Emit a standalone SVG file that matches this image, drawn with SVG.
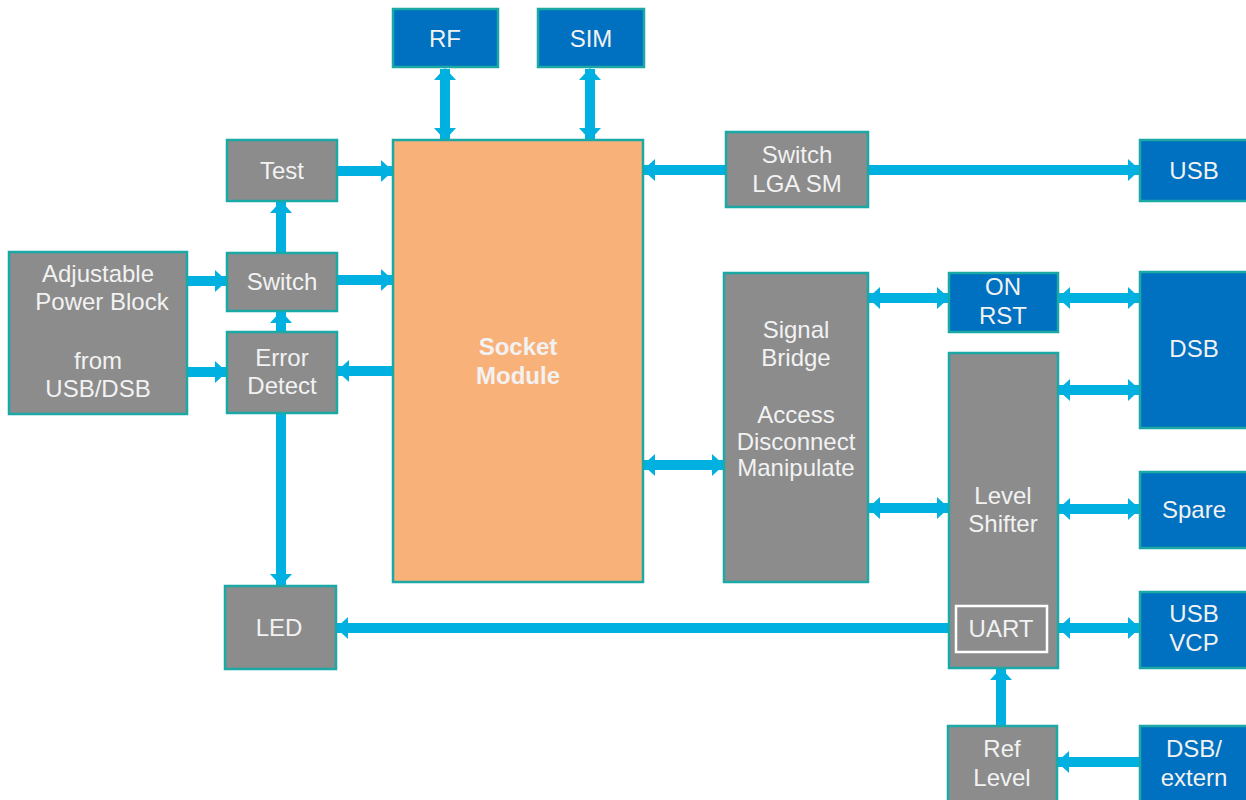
<svg xmlns="http://www.w3.org/2000/svg" width="1246" height="800" viewBox="0 0 1246 800">
<defs>
<style>
.g{fill:#8c8c8c;stroke:#1aa9a5;stroke-width:2.5}
.b{fill:#0070c0;stroke:#1aa9a5;stroke-width:2.5}
.o{fill:#f9b17a;stroke:#1aa9a5;stroke-width:2.5}
.t{font-family:"Liberation Sans",Arial,sans-serif;font-size:24px;fill:#f2f2f2;text-anchor:middle}
.bold{font-weight:bold}
.c line{stroke:#00b0e0;stroke-width:10}
</style>
<marker id="ah" viewBox="0 0 12 22" refX="11" refY="11" markerWidth="12" markerHeight="22" markerUnits="userSpaceOnUse" orient="auto-start-reverse">
<path d="M0,0 L12,11 L0,22 z" fill="#00b0e0"/>
</marker>
</defs>
<rect width="1246" height="800" fill="#ffffff"/>
<g class="c" id="connectors">
<line x1="445" y1="69" x2="445" y2="139" marker-start="url(#ah)" marker-end="url(#ah)"/>
<line x1="590" y1="69" x2="590" y2="139" marker-start="url(#ah)" marker-end="url(#ah)"/>
<line x1="337" y1="171" x2="392" y2="171" marker-end="url(#ah)"/>
<line x1="281" y1="253" x2="281" y2="202" marker-end="url(#ah)"/>
<line x1="337" y1="280" x2="392" y2="280" marker-end="url(#ah)"/>
<line x1="281" y1="332" x2="281" y2="312" marker-end="url(#ah)"/>
<line x1="393" y1="371" x2="338" y2="371" marker-end="url(#ah)"/>
<line x1="187" y1="281" x2="226" y2="281" marker-end="url(#ah)"/>
<line x1="187" y1="372" x2="226" y2="372" marker-end="url(#ah)"/>
<line x1="281" y1="413" x2="281" y2="585" marker-end="url(#ah)"/>
<line x1="726" y1="170" x2="644" y2="170" marker-end="url(#ah)"/>
<line x1="868" y1="170" x2="1139" y2="170" marker-end="url(#ah)"/>
<line x1="644" y1="465" x2="723" y2="465" marker-start="url(#ah)" marker-end="url(#ah)"/>
<line x1="869" y1="298" x2="948" y2="298" marker-start="url(#ah)" marker-end="url(#ah)"/>
<line x1="1059" y1="298" x2="1139" y2="298" marker-start="url(#ah)" marker-end="url(#ah)"/>
<line x1="1059" y1="390" x2="1139" y2="390" marker-start="url(#ah)" marker-end="url(#ah)"/>
<line x1="869" y1="508" x2="948" y2="508" marker-start="url(#ah)" marker-end="url(#ah)"/>
<line x1="1059" y1="509" x2="1139" y2="509" marker-start="url(#ah)" marker-end="url(#ah)"/>
<line x1="1059" y1="628" x2="1139" y2="628" marker-start="url(#ah)" marker-end="url(#ah)"/>
<line x1="949" y1="628" x2="337" y2="628" marker-end="url(#ah)"/>
<line x1="1001" y1="726" x2="1001" y2="669" marker-end="url(#ah)"/>
<line x1="1140" y1="762" x2="1058" y2="762" marker-end="url(#ah)"/>
</g>
<g id="rf"><rect class="b" x="393" y="9" width="105" height="58"/><text class="t" x="445" y="47">RF</text></g>
<g id="sim"><rect class="b" x="538" y="9" width="106" height="58"/><text class="t" x="591" y="47">SIM</text></g>
<g id="socket"><rect class="o" x="393" y="140" width="250" height="442"/><text class="t bold" x="518" y="355">Socket</text><text class="t bold" x="518" y="384">Module</text></g>
<g id="test"><rect class="g" x="227" y="140" width="110" height="61"/><text class="t" x="282" y="179">Test</text></g>
<g id="switch"><rect class="g" x="227" y="253" width="110" height="58"/><text class="t" x="282" y="290">Switch</text></g>
<g id="errordetect"><rect class="g" x="227" y="332" width="110" height="81"/><text class="t" x="282" y="366">Error</text><text class="t" x="282" y="394">Detect</text></g>
<g id="power"><rect class="g" x="9" y="252" width="178" height="162"/><text class="t" x="98" y="282">Adjustable</text><text class="t" x="102" y="310">Power Block</text><text class="t" x="98" y="369">from</text><text class="t" x="98" y="397">USB/DSB</text></g>
<g id="switchlga"><rect class="g" x="726" y="132" width="142" height="75"/><text class="t" x="797" y="163">Switch</text><text class="t" x="797" y="192">LGA SM</text></g>
<g id="usb"><rect class="b" x="1140" y="140" width="110" height="61"/><text class="t" x="1194" y="179">USB</text></g>
<g id="signalbridge"><rect class="g" x="724" y="273" width="144" height="309"/><text class="t" x="796" y="338">Signal</text><text class="t" x="796" y="366">Bridge</text><text class="t" x="796" y="423">Access</text><text class="t" x="796" y="450">Disconnect</text><text class="t" x="796" y="476">Manipulate</text></g>
<g id="onrst"><rect class="b" x="949" y="273" width="109" height="59"/><text class="t" x="1003" y="295">ON</text><text class="t" x="1003" y="324">RST</text></g>
<g id="dsb"><rect class="b" x="1140" y="272" width="110" height="156"/><text class="t" x="1194" y="357">DSB</text></g>
<g id="levelshifter"><rect class="g" x="949" y="353" width="109" height="315"/><text class="t" x="1003" y="504">Level</text><text class="t" x="1003" y="532">Shifter</text><rect x="956" y="606" width="91" height="46" fill="none" stroke="#ffffff" stroke-width="2.5"/><text class="t" x="1001" y="637">UART</text></g>
<g id="spare"><rect class="b" x="1140" y="472" width="110" height="76"/><text class="t" x="1194" y="518">Spare</text></g>
<g id="usbvcp"><rect class="b" x="1140" y="592" width="110" height="76"/><text class="t" x="1194" y="622">USB</text><text class="t" x="1194" y="651">VCP</text></g>
<g id="led"><rect class="g" x="225" y="586" width="111" height="83"/><text class="t" x="279" y="636">LED</text></g>
<g id="reflevel"><rect class="g" x="948" y="726" width="109" height="80"/><text class="t" x="1002" y="757">Ref</text><text class="t" x="1002" y="786">Level</text></g>
<g id="dsbextern"><rect class="b" x="1140" y="726" width="110" height="80"/><text class="t" x="1194" y="757">DSB/</text><text class="t" x="1194" y="786">extern</text></g>
</svg>
